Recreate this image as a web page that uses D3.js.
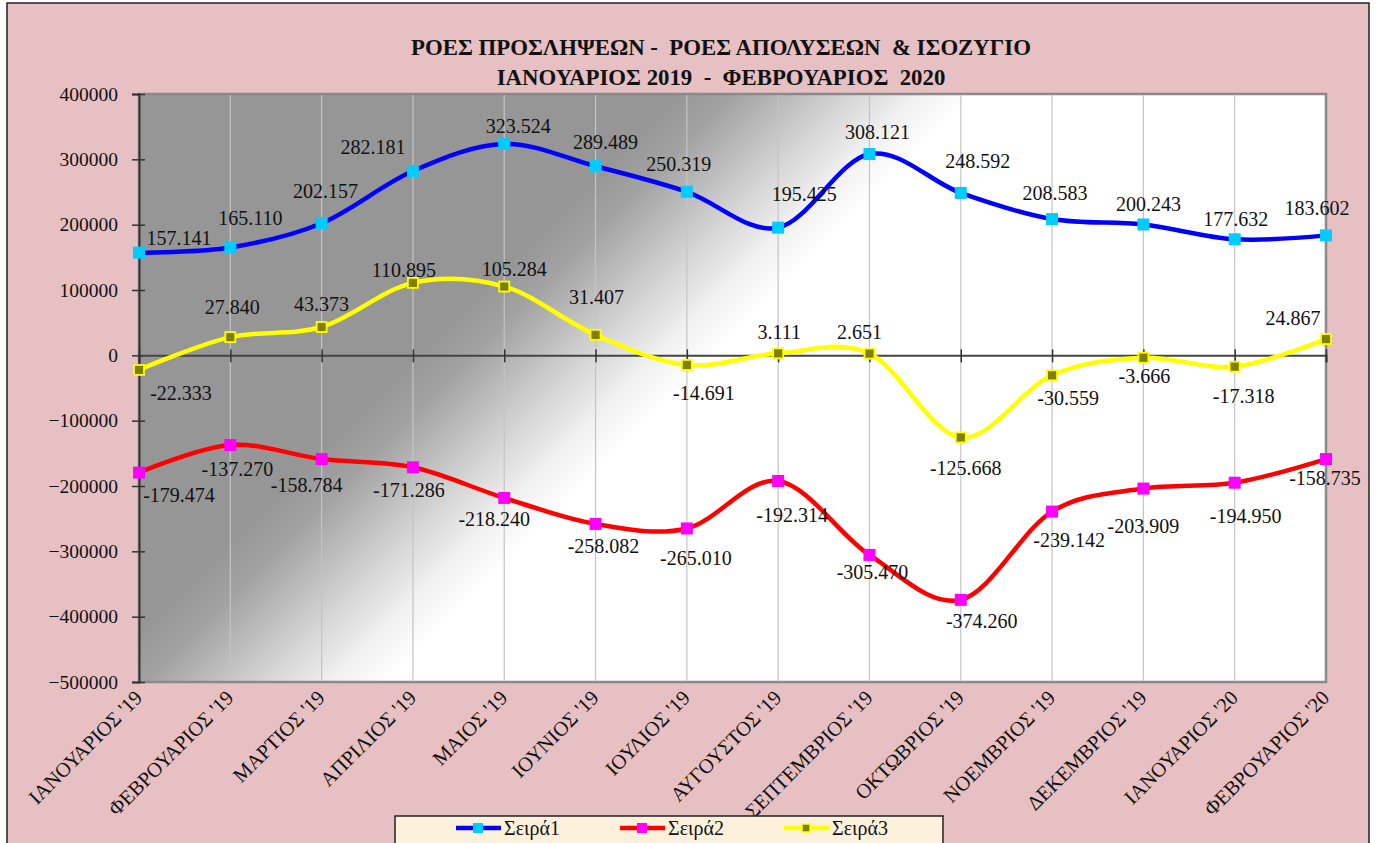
<!DOCTYPE html>
<html>
<head>
<meta charset="utf-8">
<script src="https://cdn.jsdelivr.net/npm/d3@7"></script>
<style>
  body { margin: 0; background: #fff; }
  text { font-family: "Liberation Serif", "DejaVu Serif", serif; fill: #111; }
</style>
</head>
<body>
<div id="chart"></div>
<script>
var months = ["ΙΑΝΟΥΑΡΙΟΣ '19", "ΦΕΒΡΟΥΑΡΙΟΣ '19", "ΜΑΡΤΙΟΣ '19", "ΑΠΡΙΛΙΟΣ '19", "ΜΑΙΟΣ '19",
    "ΙΟΥΝΙΟΣ '19", "ΙΟΥΛΙΟΣ '19", "ΑΥΓΟΥΣΤΟΣ '19", "ΣΕΠΤΕΜΒΡΙΟΣ '19", "ΟΚΤΩΒΡΙΟΣ '19",
    "ΝΟΕΜΒΡΙΟΣ '19", "ΔΕΚΕΜΒΡΙΟΣ '19", "ΙΑΝΟΥΑΡΙΟΣ '20", "ΦΕΒΡΟΥΑΡΙΟΣ '20"];

// Σειρά1: προσλήψεις, Σειρά2: απολύσεις, Σειρά3: ισοζύγιο
var seira1 = [157141, 165110, 202157, 282181, 323524, 289489, 250319, 195425, 308121, 248592, 208583, 200243, 177632, 183602];
var seira2 = [-179474, -137270, -158784, -171286, -218240, -258082, -265010, -192314, -305470, -374260, -239142, -203909, -194950, -158735];
var seira3 = [-22333, 27840, 43373, 110895, 105284, 31407, -14691, 3111, 2651, -125668, -30559, -3666, -17318, 24867];

var seriesNames = ["Σειρά1", "Σειρά2", "Σειρά3"];
var yTicks = [400000, 300000, 200000, 100000, 0, -100000, -200000, -300000, -400000, -500000];

// where excel put each data label (offset from the marker, px)
var lbl1 = [[40,-15],[20,-29],[4,-32],[-40,-24],[14,-18],[10,-24],[-8,-28],[26,-34],[8,-22],[17,-32],[3,-26],[5,-21],[1,-20],[-9,-27]];
var lbl2 = [[40,22],[7,24],[-15,26],[-4,23],[-10,21],[8,22],[9,30],[14,34],[3,17],[21,21],[17,28],[0,37],[11,33],[-1,19]];
var lbl3 = [[42,23],[2,-30],[0,-23],[-9,-13],[10,-18],[1,-38],[17,28],[1,-21],[-10,-22],[5,31],[16,23],[1,18],[9,29],[-33,-21]];

var W = 1381, H = 843;
var plot = {left: 139, right: 1326, top: 94, bottom: 682};

var grFormat = d3.formatLocale({decimal: ",", thousands: ".", grouping: [3], currency: ["", "€"], minus: "-"}).format(",d");

var svg = d3.select("#chart").append("svg")
    .attr("width", W)
    .attr("height", H)
    .attr("font-family", "Liberation Serif");

var defs = svg.append("defs");
var grad = defs.append("linearGradient")
    .attr("id", "plotGrad")
    .attr("gradientUnits", "userSpaceOnUse")
    .attr("x1", 385).attr("y1", 385)
    .attr("x2", 535).attr("y2", 535);
[[0, "#969696"], [0.2, "#a3a3a3"], [0.5, "#cbcbcb"], [0.8, "#f0f0f0"], [1, "#ffffff"]].forEach(function(s) {
    grad.append("stop").attr("offset", s[0]).attr("stop-color", s[1]);
});

// chart area
svg.append("rect")
    .attr("x", 7).attr("y", 3)
    .attr("width", 1362).attr("height", 845)
    .attr("fill", "#e6c0c2")
    .attr("stroke", "#222").attr("stroke-width", 1.5);

var x = d3.scalePoint().domain(months).range([plot.left, plot.right]);
var y = d3.scaleLinear().domain([-500000, 400000]).range([plot.bottom, plot.top]);

// plot area
svg.append("rect")
    .attr("x", plot.left).attr("y", plot.top)
    .attr("width", plot.right - plot.left).attr("height", plot.bottom - plot.top)
    .attr("fill", "url(#plotGrad)")
    .attr("stroke", "#8a8a8a").attr("stroke-width", 2.5);

// vertical gridlines
svg.append("g").selectAll("line").data(months.slice(1, -1)).enter().append("line")
    .attr("x1", d => x(d)).attr("x2", d => x(d))
    .attr("y1", plot.top + 1).attr("y2", plot.bottom - 1)
    .attr("stroke", "#c4c4c4").attr("stroke-width", 1.2);

// title
var title = svg.append("g").attr("font-weight", "bold").attr("text-anchor", "middle");
title.append("text").attr("x", 721).attr("y", 55).attr("font-size", 22.8)
    .style("white-space", "pre").text("ΡΟΕΣ ΠΡΟΣΛΗΨΕΩΝ -  ΡΟΕΣ ΑΠΟΛΥΣΕΩΝ  & ΙΣΟΖΥΓΙΟ");
title.append("text").attr("x", 721).attr("y", 85).attr("font-size", 22.8)
    .style("white-space", "pre").text("ΙΑΝΟΥΑΡΙΟΣ 2019  -  ΦΕΒΡΟΥΑΡΙΟΣ  2020");

// y axis
var yAxis = svg.append("g")
    .attr("transform", "translate(" + plot.left + ",0)")
    .call(d3.axisLeft(y).tickValues(yTicks).tickFormat(d3.format("d")).tickSize(7).tickPadding(14));
yAxis.attr("font-family", null);
yAxis.select(".domain").attr("stroke", "#333").attr("stroke-width", 2);
yAxis.selectAll(".tick line").attr("stroke", "#333").attr("stroke-width", 1.5).attr("x2", 6).attr("x1", -7);
yAxis.selectAll(".tick text").attr("font-size", 19.5).attr("fill", "#111");

// x axis line across zero
var xAxis = svg.append("g")
    .attr("transform", "translate(0," + y(0) + ")")
    .call(d3.axisBottom(x).tickSize(7).tickFormat(""));
xAxis.select(".domain").attr("stroke", "#444").attr("stroke-width", 2);
xAxis.selectAll(".tick line").attr("stroke", "#333").attr("stroke-width", 1.5).attr("y1", -6);

// category labels at the bottom
var xLabels = svg.append("g")
    .attr("transform", "translate(0," + plot.bottom + ")")
    .call(d3.axisBottom(x).tickSize(0));
xLabels.attr("font-family", null);
xLabels.select(".domain").remove();
xLabels.selectAll(".tick text")
    .attr("font-size", 20.5)
    .attr("fill", "#111")
    .attr("text-anchor", "end")
    .attr("dy", 0)
    .attr("y", 0)
    .attr("transform", "translate(4,17) rotate(-45)");

var series = [
    {name: seriesNames[0], values: seira1, labels: lbl1, line: "#0000ff", marker: "#00ccff", border: "none"},
    {name: seriesNames[1], values: seira2, labels: lbl2, line: "#ff0000", marker: "#ff00ff", border: "none"},
    {name: seriesNames[2], values: seira3, labels: lbl3, line: "#ffff00", marker: "#808000", border: "#ffff00"}
];

var line = d3.line()
    .x((d, i) => x(months[i]))
    .y(d => y(d))
    .curve(d3.curveCardinal.tension(0));

var sg = svg.selectAll("g.series").data(series).enter().append("g").attr("class", "series");

sg.append("path")
    .attr("d", d => line(d.values))
    .attr("fill", "none")
    .attr("stroke", d => d.line)
    .attr("stroke-width", 4.5);

sg.each(function(s) {
    var g = d3.select(this);
    var m = s.border == "none" ? 12 : 10;
    g.selectAll("rect.mk").data(s.values).enter().append("rect")
        .attr("class", "mk")
        .attr("x", (d, i) => x(months[i]) - m / 2)
        .attr("y", d => y(d) - m / 2)
        .attr("width", m).attr("height", m)
        .attr("fill", s.marker)
        .attr("stroke", s.border)
        .attr("stroke-width", 1.8);
    g.selectAll("text.lb").data(s.values).enter().append("text")
        .attr("class", "lb")
        .attr("x", (d, i) => x(months[i]) + s.labels[i][0])
        .attr("y", (d, i) => y(d) + s.labels[i][1])
        .attr("dy", "0.35em")
        .attr("text-anchor", "middle")
        .attr("font-size", 20)
        .text(d => grFormat(d));
});

// legend
var legend = svg.append("g");
legend.append("rect")
    .attr("x", 395).attr("y", 816)
    .attr("width", 548).attr("height", 32)
    .attr("fill", "#fdf1dc")
    .attr("stroke", "#222").attr("stroke-width", 1.5);
var legX = [456, 620, 784];
var li = legend.selectAll("g.li").data(series).enter().append("g")
    .attr("transform", (d, i) => "translate(" + legX[i] + ",828)");
li.append("line").attr("x1", 0).attr("x2", 45)
    .attr("stroke", d => d.line).attr("stroke-width", 4.5);
li.append("rect")
    .attr("x", (d) => d.border == "none" ? 17 : 18).attr("y", (d) => d.border == "none" ? -5 : -4)
    .attr("width", d => d.border == "none" ? 10 : 8).attr("height", d => d.border == "none" ? 10 : 8)
    .attr("fill", d => d.marker).attr("stroke", d => d.border).attr("stroke-width", 1.5);
li.append("text")
    .attr("x", 48).attr("dy", "0.35em")
    .attr("font-size", 20)
    .text(d => d.name);
</script>
</body>
</html>
